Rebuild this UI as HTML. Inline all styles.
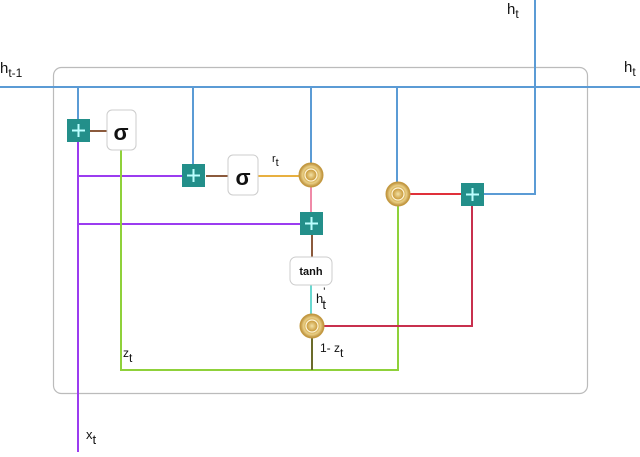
<!DOCTYPE html>
<html><head><style>
body{margin:0;background:#fff;width:640px;height:452px;overflow:hidden}
text{font-family:"Liberation Sans",sans-serif;fill:#111}
</style></head><body>
<svg width="640" height="452" viewBox="0 0 640 452">
<defs>
<radialGradient id="g" cx="50%" cy="50%" r="50%">
<stop offset="0" stop-color="#f3e2a6"/><stop offset="0.45" stop-color="#c99a3c"/><stop offset="0.7" stop-color="#e9cf85"/><stop offset="1" stop-color="#b98a35"/>
</radialGradient>
</defs>
<rect x="53.5" y="67.5" width="534" height="326" rx="8" fill="none" stroke="#bbb" stroke-width="1.2"/>
<g fill="none" stroke-width="2">
<path d="M0 87H640" stroke="#5b9bd5"/>
<path d="M78 87V120M193 87V165M311 87V164M397 87V183M484 194H535V0" stroke="#5b9bd5"/>
<path d="M78 142V452M78 176H183M78 224H300" stroke="#9b3cf0"/>
<path d="M90 131H107M206 176H228M312 235V258" stroke="#8b5a3c"/>
<path d="M121 150V370H398V206" stroke="#8fd13a"/>
<path d="M258 176H300" stroke="#e8b040"/>
<path d="M311 187V212" stroke="#f08aa8"/>
<path d="M311 285V314" stroke="#6ad8d0"/>
<path d="M312 338V370" stroke="#6b6b2a"/>
<path d="M324 326H472V206" stroke="#c8304e"/>
<path d="M410 194H461" stroke="#e0303a"/>
</g>
<g fill="#238f8a">
<rect x="67" y="119" width="23" height="23"/><rect x="182" y="164" width="23" height="23"/>
<rect x="300" y="212" width="23" height="23"/><rect x="461" y="183" width="23" height="23"/>
</g>
<g stroke="#bff" stroke-width="2">
<path d="M72 130.5H85M78.5 124V137M187 175.5H200M193.5 169V182M305 223.5H318M311.5 217V230M466 194.5H479M472.5 188V201"/>
</g>
<g fill="url(#g)" stroke="#c49a40">
<circle cx="311" cy="175" r="12"/><circle cx="398" cy="194" r="12"/><circle cx="312" cy="326" r="12"/>
</g>
<g fill="none" stroke="#fff6d8" stroke-width="1.2">
<circle cx="311" cy="175" r="6"/><circle cx="398" cy="194" r="6"/><circle cx="312" cy="326" r="6"/>
</g>
<g fill="#fff" stroke="#ccc">
<rect x="107" y="110" width="29" height="40" rx="5"/><rect x="228" y="155" width="30" height="40" rx="5"/>
<rect x="290" y="257" width="42" height="28" rx="6"/>
</g>
<text x="121" y="140" font-size="22" font-weight="bold" text-anchor="middle" font-family="Liberation Serif">σ</text>
<text x="243" y="185" font-size="22" font-weight="bold" text-anchor="middle">σ</text>
<text x="311" y="275" font-size="11" font-weight="bold" text-anchor="middle">tanh</text>
<text x="0" y="73" font-size="15">h<tspan font-size="12" dy="4">t-1</tspan></text>
<text x="624" y="72" font-size="15">h<tspan font-size="12" dy="4">t</tspan></text>
<text x="507" y="14" font-size="15">h<tspan font-size="12" dy="4">t</tspan></text>
<text x="272" y="162" font-size="11">r<tspan font-size="11" dy="4">t</tspan></text>
<text x="316" y="303" font-size="13">h<tspan font-size="11" dy="-8">'</tspan><tspan font-size="13" dy="14" dx="-3">t</tspan></text>
<text x="320" y="352" font-size="12">1-  z<tspan font-size="12" dy="5">t</tspan></text>
<text x="123" y="357" font-size="12">z<tspan dy="5">t</tspan></text>
<text x="86" y="439" font-size="13">x<tspan dy="5">t</tspan></text>
</svg>
</body></html>
